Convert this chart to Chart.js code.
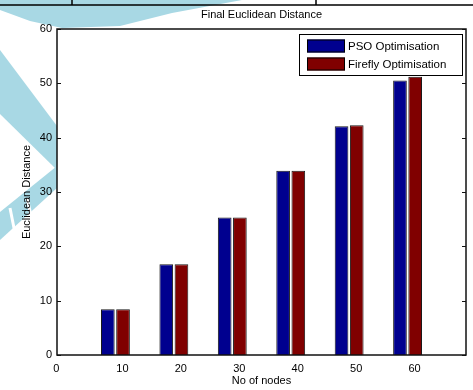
<!DOCTYPE html>
<html>
<head>
<meta charset="utf-8">
<script src="https://cdn.jsdelivr.net/npm/chart.js@4/dist/chart.umd.min.js"></script>
<style>
  html, body { margin: 0; padding: 0; background: #fff; }
  #wrap { width: 473px; height: 390px; }
</style>
</head>
<body>
<div id="wrap"><canvas id="c" width="473" height="390"></canvas></div>
<script>
// Final Euclidean distance for each network size
const nodeCounts = [10, 20, 30, 40, 50, 60];
const psoDistance = [8.4, 16.7, 25.3, 33.9, 42.1, 50.5];
const fireflyDistance = [8.4, 16.7, 25.3, 33.9, 42.3, 51.2];
const seriesNames = ['PSO Optimisation', 'Firefly Optimisation'];
const yTickStep = 10;
const yMax = 60;

// Category slots: an empty slot at each end so the groups sit at 1..6 of 0..7
const xLabels = ['0', ...nodeCounts.map(String), ''];
const padSeries = arr => [null, ...arr, null];

const FONT = "'Liberation Sans', Arial, Helvetica, sans-serif";
Chart.defaults.font.family = FONT;
Chart.defaults.font.size = 11;
Chart.defaults.color = '#000';

// Page backdrop: header rule, faint watermark, white axes area
const backdrop = {
  id: 'backdrop',
  beforeDraw(chart) {
    const { ctx, chartArea: a, width } = chart;
    ctx.save();
    ctx.fillStyle = '#fff';
    ctx.fillRect(0, 0, chart.width, chart.height);
    ctx.fillStyle = '#a8d8e4';
    const shapes = [
      [[0, 0], [242, 0], [172, 13], [120, 26], [62, 28], [30, 21], [0, 10]],
      [[0, 50], [57, 126], [57, 170], [0, 114]],
      [[57, 166], [57, 188], [0, 240], [0, 212]]
    ];
    shapes.forEach(pts => {
      ctx.beginPath();
      pts.forEach(([x, y], i) => i ? ctx.lineTo(x, y) : ctx.moveTo(x, y));
      ctx.closePath();
      ctx.fill();
    });
    // white breaks across the lower band
    ctx.strokeStyle = '#fff';
    ctx.lineWidth = 3;
    [[10, 208, 16, 238], [27, 198, 33, 224]].forEach(([x1, y1, x2, y2]) => {
      ctx.beginPath(); ctx.moveTo(x1, y1); ctx.lineTo(x2, y2); ctx.stroke();
    });
    // header rule
    ctx.strokeStyle = '#000';
    ctx.lineWidth = 1.5;
    ctx.beginPath();
    ctx.moveTo(0, 5); ctx.lineTo(width, 5);
    ctx.moveTo(72, 0); ctx.lineTo(72, 5);
    ctx.moveTo(316, 0); ctx.lineTo(316, 5);
    ctx.stroke();
    ctx.fillStyle = '#fff';
    ctx.fillRect(a.left, a.top, a.right - a.left, a.bottom - a.top);
    ctx.restore();
  }
};

// Axes box with inward tick marks on both vertical sides
const axesBox = {
  id: 'axesBox',
  afterDatasetsDraw(chart) {
    const { ctx, chartArea: a, scales } = chart;
    ctx.save();
    ctx.strokeStyle = '#111';
    ctx.lineWidth = 1.5;
    ctx.strokeRect(a.left, a.top, a.right - a.left, a.bottom - a.top);
    ctx.lineWidth = 1;
    ctx.beginPath();
    scales.y.ticks.forEach(t => {
      const y = Math.round(scales.y.getPixelForValue(t.value)) + 0.5;
      ctx.moveTo(a.left, y); ctx.lineTo(a.left + 4, y);
      ctx.moveTo(a.right, y); ctx.lineTo(a.right - 4, y);
    });
    ctx.stroke();
    ctx.restore();
  }
};

// Figure title centred over the axes
const figTitle = {
  id: 'figTitle',
  afterDraw(chart, args, opts) {
    const { ctx, chartArea: a } = chart;
    ctx.save();
    ctx.fillStyle = '#000';
    ctx.font = '11px ' + FONT;
    ctx.textAlign = 'center';
    ctx.textBaseline = 'middle';
    ctx.fillText(opts.text, (a.left + a.right) / 2, 15);
    ctx.restore();
  }
};

// Boxed legend in the upper-right corner of the axes
const boxLegend = {
  id: 'boxLegend',
  afterDraw(chart) {
    const { ctx, chartArea: a } = chart;
    const bx = a.right - 167, by = a.top + 5, bw = 163, bh = 41;
    ctx.save();
    ctx.fillStyle = '#fff';
    ctx.fillRect(bx, by, bw, bh);
    ctx.strokeStyle = '#000';
    ctx.lineWidth = 1;
    ctx.strokeRect(bx + 0.5, by + 0.5, bw, bh);
    ctx.font = '11.5px ' + FONT;
    ctx.textBaseline = 'middle';
    chart.data.datasets.forEach((ds, i) => {
      const rowY = by + 12 + i * 18;
      ctx.fillStyle = ds.backgroundColor;
      ctx.fillRect(bx + 8, rowY - 6.5, 38, 13);
      ctx.strokeStyle = '#000';
      ctx.strokeRect(bx + 8.5, rowY - 6, 37, 12);
      ctx.fillStyle = '#000';
      ctx.fillText(ds.label, bx + 49, rowY + 0.5);
    });
    ctx.restore();
  }
};

new Chart(document.getElementById('c'), {
  type: 'bar',
  data: {
    labels: xLabels,
    datasets: [
      {
        label: seriesNames[0],
        data: padSeries(psoDistance),
        backgroundColor: '#00008f',
        borderColor: '#1a1a1a',
        borderWidth: 1
      },
      {
        label: seriesNames[1],
        data: padSeries(fireflyDistance),
        backgroundColor: '#800000',
        borderColor: '#1a1a1a',
        borderWidth: 1
      }
    ]
  },
  options: {
    responsive: false,
    animation: false,
    devicePixelRatio: 1,
    layout: { padding: { top: 29, right: 4, left: 0, bottom: 0 } },
    datasets: {
      bar: { categoryPercentage: 0.52, barPercentage: 0.9 }
    },
    plugins: {
      legend: { display: false },
      tooltip: { enabled: false },
      title: { display: false },
      figTitle: { text: 'Final Euclidean Distance' }
    },
    scales: {
      x: {
        type: 'category',
        offset: false,
        grid: { display: false, drawTicks: false },
        border: { display: false },
        ticks: {
          autoSkip: false, maxRotation: 0, minRotation: 0, padding: 7, labelOffset: 7, font: { size: 11 },
          // trailing spaces pull the origin label back under the axis corner
          callback(value, index) {
            const label = this.getLabelForValue(value);
            return index === 0 ? label + '     ' : label;
          }
        },
        title: { display: true, text: 'No of nodes', font: { size: 11 }, padding: { top: 0, bottom: 2 } },
        afterFit(scale) { scale.height = 35; }
      },
      y: {
        min: 0,
        max: yMax,
        grid: { display: false, drawTicks: false },
        border: { display: false },
        ticks: { stepSize: yTickStep, padding: 5, font: { size: 11 } },
        title: { display: true, text: 'Euclidean Distance', font: { size: 11 }, padding: { top: 20, bottom: 0 } },
        afterFit(scale) { scale.width = 57; }
      }
    }
  },
  plugins: [backdrop, axesBox, figTitle, boxLegend]
});
</script>
</body>
</html>
